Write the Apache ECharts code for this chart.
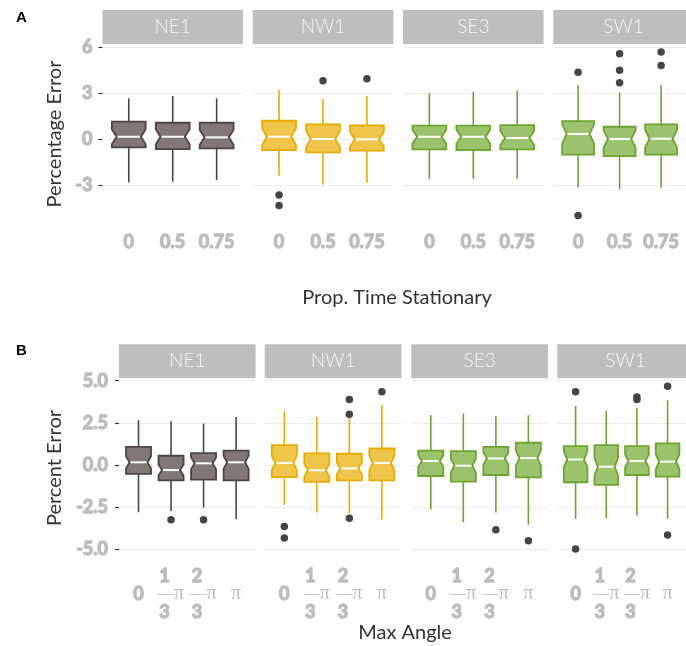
<!DOCTYPE html>
<html><head><meta charset="utf-8">
<script src="https://cdn.jsdelivr.net/npm/echarts@6/dist/echarts.min.js"></script>
<style>html,body{margin:0;padding:0;background:#fff}#c{width:686px;height:646px}</style>
</head><body><div id="c"></div>
<script>
// ---------- data ----------
const sites = ['NE1', 'NW1', 'SE3', 'SW1'];
const catsA = ['0', '0.5', '0.75'];
const catsB = ['0', '1/3π', '2/3π', 'π'];
const yTicksA = [-3, 0, 3, 6];
const yTicksB = [-5, -2.5, 0, 2.5, 5];

// each box: [lower whisker, Q1, median, Q3, upper whisker]
const boxA_NE1 = [[-2.82, -0.54, 0.15, 1.13, 2.65], [-2.78, -0.65, 0.15, 1.06, 2.80], [-2.67, -0.61, 0.11, 1.06, 2.65]];
const boxA_NW1 = [[-2.39, -0.72, 0.15, 1.19, 3.19], [-2.95, -0.87, 0.00, 0.95, 2.60], [-2.84, -0.76, -0.02, 0.89, 2.80]];
const boxA_SE3 = [[-2.62, -0.67, 0.15, 0.87, 2.97], [-2.58, -0.72, 0.15, 0.87, 3.08], [-2.58, -0.67, 0.07, 0.91, 3.15]];
const boxA_SW1 = [[-3.15, -1.02, 0.33, 1.17, 3.51], [-3.28, -1.11, 0.00, 0.80, 3.02], [-3.17, -1.02, 0.02, 0.95, 3.51]];
// outliers: [category number (1-based), value]
const outA_NE1 = [];
const outA_NW1 = [[1, -3.64], [1, -4.32], [2, 3.80], [3, 3.93]];
const outA_SE3 = [];
const outA_SW1 = [[1, 4.34], [1, -4.97], [2, 5.55], [2, 4.47], [2, 3.67], [3, 5.66], [3, 4.79]];

const boxB_NE1 = [[-2.80, -0.53, 0.16, 1.08, 2.66], [-2.72, -0.91, -0.30, 0.55, 2.60], [-2.52, -0.87, 0.10, 0.71, 2.46], [-3.21, -0.91, 0.16, 0.85, 2.85]];
const boxB_NW1 = [[-2.36, -0.71, 0.12, 1.18, 3.19], [-2.81, -1.00, -0.31, 0.69, 2.85], [-2.85, -0.91, -0.20, 0.67, 2.80], [-3.21, -0.91, 0.12, 0.98, 3.54]];
const boxB_SE3 = [[-2.62, -0.65, 0.24, 0.85, 2.95], [-3.39, -0.98, -0.04, 0.83, 3.05], [-2.81, -0.59, 0.39, 1.08, 2.91], [-3.54, -0.73, 0.41, 1.32, 2.95]];
const boxB_SW1 = [[-3.19, -1.02, 0.33, 1.12, 3.50], [-3.15, -1.18, -0.10, 1.18, 3.21], [-2.99, -0.59, 0.24, 1.12, 3.39], [-3.19, -0.69, 0.20, 1.28, 3.84]];
const outB_NE1 = [[2, -3.25], [3, -3.25]];
const outB_NW1 = [[1, -3.64], [1, -4.33], [3, 3.88], [3, 3.01], [3, -3.15], [4, 4.35]];
const outB_SE3 = [[3, -3.84], [4, -4.49]];
const outB_SW1 = [[1, 4.35], [1, -4.98], [3, 4.04], [3, 3.88], [4, 4.67], [4, -4.15]];

const groupSizeA = 30;   // assumed n per box (for notch size)
const groupSizeB = 50;

// ---------- styling / layout ----------
const fills   = {NE1: '#807776', NW1: '#efc54c', SE3: '#9bc36d', SW1: '#9bc36d'};
const strokes = {NE1: '#4d4545', NW1: '#e6ad00', SE3: '#6ca42f', SW1: '#6ca42f'};
const BOX_W = 0.77, NOTCH_W = 0.72;
const LBL = '#bdbdbd';
// heavy look: Lato with a same-colour outline
const HEAVY = {fontFamily: 'Lato', fontWeight: 'bold', fontSize: 18, color: LBL, textBorderColor: LBL, textBorderWidth: 1.3};
const THIN = {textBorderWidth: 0, textBorderColor: 'transparent', fontWeight: 'normal'};

const panels = [
  {key: 'A', cats: catsA, boxes: [boxA_NE1, boxA_NW1, boxA_SE3, boxA_SW1], outs: [outA_NE1, outA_NW1, outA_SE3, outA_SW1],
   n: groupSizeA, ticks: yTicksA, lefts: [102.4, 252.7, 403, 553.2], width: 140.6, top: 43.9,
   yMin: -5.5, yMax: 6.19, ppu: 15.37, yMargin: 10, xMargin: 10, fmt: v => String(v)},
  {key: 'B', cats: catsB, boxes: [boxB_NE1, boxB_NW1, boxB_SE3, boxB_SW1], outs: [outB_NE1, outB_NW1, outB_SE3, outB_SW1],
   n: groupSizeB, ticks: yTicksB, lefts: [119, 264.8, 411.3, 557.2], width: 136.6, top: 378.2,
   yMin: -5.4, yMax: 5.15, ppu: 16.86, yMargin: 11, xMargin: 11, fmt: v => v.toFixed(1)}
];

function catLabel(c, multi) {
  if (!multi) return c;
  if (c.indexOf('/') >= 0) {
    const num = c.split('/')[0];
    const den = c.split('/')[1].replace('π', '');
    return '{f|' + num + '}\n{bar|—}{pi|π}\n{f|' + den + '}';
  }
  if (c === 'π') return '{e| }\n{pi|π}\n{e| }';
  return '{e| }\n{n|' + c + '}\n{e| }';
}

function makeRender(fill, stroke, n) {
  return function (params, api) {
    const x = api.value(0);
    const lo = api.value(1), q1 = api.value(2), med = api.value(3), q3 = api.value(4), hi = api.value(5);
    const unit = api.size([1, 0])[0];
    const hw = unit * BOX_W / 2, nw = hw * NOTCH_W;
    const nh = 1.58 * (q3 - q1) / Math.sqrt(n);
    const cx = api.coord([x, med])[0];
    const Y = v => api.coord([x, v])[1];
    const pts = [[cx - hw, Y(q3)], [cx + hw, Y(q3)], [cx + hw, Y(med + nh)], [cx + nw, Y(med)], [cx + hw, Y(med - nh)],
                 [cx + hw, Y(q1)], [cx - hw, Y(q1)], [cx - hw, Y(med - nh)], [cx - nw, Y(med)], [cx - hw, Y(med + nh)]];
    return {type: 'group', children: [
      {type: 'line', shape: {x1: cx, y1: Y(q3), x2: cx, y2: Y(hi)}, style: {stroke: stroke, lineWidth: 1.6}},
      {type: 'line', shape: {x1: cx, y1: Y(q1), x2: cx, y2: Y(lo)}, style: {stroke: stroke, lineWidth: 1.6}},
      {type: 'polygon', shape: {points: pts}, style: {fill: fill, stroke: stroke, lineWidth: 1.8, lineJoin: 'miter'}},
      {type: 'line', shape: {x1: cx - nw + 1, y1: Y(med), x2: cx + nw - 1, y2: Y(med)}, style: {stroke: '#ffffff', lineWidth: 2}}
    ]};
  };
}

const grid = [], xAxis = [], yAxis = [], series = [], graphic = [];
panels.forEach(p => {
  const h = (p.yMax - p.yMin) * p.ppu;
  const nc = p.cats.length;
  const multi = p.key === 'B';
  const tickVals = p.cats.map((c, i) => i + 1);
  sites.forEach((s, si) => {
    const gi = grid.length;
    grid.push({left: p.lefts[si], top: p.top, width: p.width, height: h});
    xAxis.push({
      type: 'value', gridIndex: gi, min: 0.4, max: nc + 0.6,
      axisLine: {show: false}, splitLine: {show: false},
      axisTick: {show: true, customValues: tickVals, length: 4, lineStyle: {color: '#333', width: 1.2}},
      axisLabel: Object.assign({
        show: true, customValues: tickVals, margin: p.xMargin, lineHeight: 18,
        formatter: v => catLabel(p.cats[Math.round(v) - 1], multi),
        rich: {
          n: Object.assign({lineHeight: 18}, HEAVY),
          f: Object.assign({lineHeight: 18, padding: [0, 13, 0, 0]}, HEAVY),
          e: Object.assign({fontFamily: 'Lato', fontSize: 18, lineHeight: 18}, THIN),
          bar: Object.assign({fontFamily: 'Liberation Serif', fontSize: 16, color: LBL, lineHeight: 18}, THIN),
          pi: Object.assign({fontFamily: 'Liberation Serif', fontSize: 20, color: LBL, lineHeight: 18}, THIN)
        }
      }, HEAVY)
    });
    yAxis.push({
      type: 'value', gridIndex: gi, min: p.yMin, max: p.yMax,
      axisLine: {show: false},
      axisTick: {show: si === 0, customValues: p.ticks, length: 4, lineStyle: {color: '#333', width: 1.2}},
      axisLabel: Object.assign({show: si === 0, customValues: p.ticks, margin: p.yMargin, formatter: p.fmt}, HEAVY),
      splitLine: {show: true, lineStyle: {color: '#ebebeb', width: 1}}
    });
    series.push({
      type: 'custom', xAxisIndex: gi, yAxisIndex: gi,
      renderItem: makeRender(fills[s], strokes[s], p.n),
      encode: {x: 0, y: [1, 2, 3, 4, 5]},
      data: p.boxes[si].map((b, i) => [i + 1].concat(b)),
      silent: true, animation: false
    });
    series.push({
      type: 'scatter', xAxisIndex: gi, yAxisIndex: gi, symbolSize: 7.5,
      itemStyle: {color: '#444444', opacity: 1}, data: p.outs[si], silent: true, animation: false
    });
    // facet strip
    graphic.push({type: 'rect', left: p.lefts[si], top: p.top - 34, shape: {width: p.width, height: 34}, style: {fill: '#bebebe'}, silent: true});
    graphic.push({type: 'text', x: p.lefts[si] + p.width / 2, y: p.top - 17,
      style: {text: s, fill: '#f4f4f4', font: '300 19px "Lato Light", Lato', textAlign: 'center', textVerticalAlign: 'middle'}, silent: true});
  });
});

// panel letters and axis titles
const TITLE_FONT = '20px Lato';
graphic.push({type: 'text', x: 16, y: 18, style: {text: 'A', fill: '#000', font: 'bold 15px "Liberation Sans"', textAlign: 'left', textVerticalAlign: 'middle'}});
graphic.push({type: 'text', x: 16, y: 351, style: {text: 'B', fill: '#000', font: 'bold 15px "Liberation Sans"', textAlign: 'left', textVerticalAlign: 'middle'}});
graphic.push({type: 'text', x: 397, y: 298, style: {text: 'Prop. Time Stationary', fill: '#333', font: TITLE_FONT, textAlign: 'center', textVerticalAlign: 'middle'}});
graphic.push({type: 'text', x: 405, y: 633, style: {text: 'Max Angle', fill: '#333', font: TITLE_FONT, textAlign: 'center', textVerticalAlign: 'middle'}});
graphic.push({type: 'text', x: 55, y: 134, rotation: Math.PI / 2, style: {text: 'Percentage Error', fill: '#333', font: TITLE_FONT, textAlign: 'center', textVerticalAlign: 'middle'}});
graphic.push({type: 'text', x: 55, y: 468, rotation: Math.PI / 2, style: {text: 'Percent Error', fill: '#333', font: TITLE_FONT, textAlign: 'center', textVerticalAlign: 'middle'}});

const chart = echarts.init(document.getElementById('c'), null, {renderer: 'canvas'});
chart.setOption({animation: false, grid, xAxis, yAxis, series, graphic});
</script></body></html>
